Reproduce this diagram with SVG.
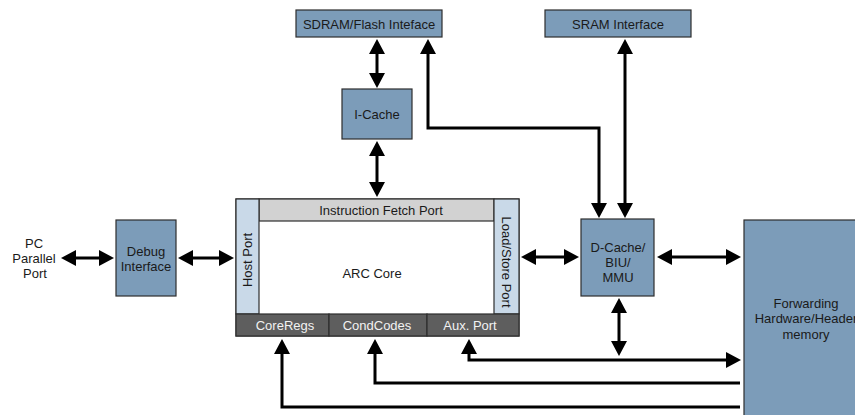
<svg xmlns="http://www.w3.org/2000/svg" width="855" height="415" viewBox="0 0 855 415">
<defs>
<marker id="ah" markerUnits="userSpaceOnUse" markerWidth="16" markerHeight="16" refX="11" refY="8" orient="auto-start-reverse">
<path d="M0,0 L15,8 L0,16 z" fill="#000"/>
</marker>
<style>
.blk{fill:#7c9cb9;stroke:#2e2e2e;stroke-width:1.2}
.lt{fill:#c9d9e8;stroke:#2e2e2e;stroke-width:1.2}
.gr{fill:#d2d2d2;stroke:#2e2e2e;stroke-width:1.2}
.dk{fill:#5e5e5e;stroke:#2e2e2e;stroke-width:1.2}
.wh{fill:#fff;stroke:#2e2e2e;stroke-width:1.2}
text{font-family:"Liberation Sans",Arial,sans-serif;font-size:13px;fill:#1a1a1a;text-anchor:middle}
.wt{fill:#f2f2f2}
.c{fill:none;stroke:#000;stroke-width:3}
.a2{marker-start:url(#ah);marker-end:url(#ah)}
.a1{marker-end:url(#ah)}
</style>
</defs>
<g id="sdram"><rect class="blk" x="296" y="10" width="146" height="27"/><text x="369" y="28.5">SDRAM/Flash Inteface</text></g>
<g id="sram"><rect class="blk" x="545" y="10" width="146" height="27"/><text x="618" y="28.5">SRAM Interface</text></g>
<g id="icache"><rect class="blk" x="342" y="89" width="70" height="50"/><text x="377" y="118.5">I-Cache</text></g>
<g id="pc"><text x="34" y="247.5">PC</text><text x="34" y="262.5">Parallel</text><text x="35" y="277.5">Port</text></g>
<g id="debug"><rect class="blk" x="116" y="220" width="60" height="76"/><text x="146" y="256">Debug</text><text x="146" y="271">Interface</text></g>
<g id="arccore">
<rect class="wh" x="236" y="199" width="283" height="137"/>
<rect class="gr" x="259" y="199" width="235" height="22"/>
<text x="381" y="215">Instruction Fetch Port</text>
<rect class="lt" x="236" y="199" width="23" height="115"/>
<text transform="translate(252,260) rotate(-90)">Host Port</text>
<rect class="lt" x="494" y="199" width="25" height="115"/>
<text transform="translate(502,262) rotate(90)">Load/Store Port</text>
<text x="372" y="277.5">ARC Core</text>
<rect class="dk" x="236" y="314" width="93" height="22"/>
<rect class="dk" x="329" y="314" width="98" height="22"/>
<rect class="dk" x="427" y="314" width="92" height="22"/>
<text class="wt" x="285" y="330">CoreRegs</text>
<text class="wt" x="377" y="330">CondCodes</text>
<text class="wt" x="470" y="330">Aux. Port</text>
</g>
<g id="dcache"><rect class="blk" x="581" y="219" width="73" height="77"/><text x="618" y="251.5">D-Cache/</text><text x="618" y="266.5">BIU/</text><text x="618" y="282">MMU</text></g>
<g id="fwd"><rect class="blk" x="744" y="220" width="120" height="200"/><text x="806" y="307.5">Forwarding</text><text x="806" y="323">Hardware/Header</text><text x="806" y="338.5">memory</text></g>
<g id="connectors">
<line class="c a2" x1="377" y1="43" x2="377" y2="84"/>
<line class="c a2" x1="377" y1="145" x2="377" y2="193"/>
<line class="c a2" x1="65" y1="258" x2="110" y2="258"/>
<line class="c a2" x1="182" y1="258" x2="230" y2="258"/>
<line class="c a2" x1="525" y1="257" x2="575" y2="257"/>
<line class="c a2" x1="661" y1="257" x2="737" y2="257"/>
<polyline class="c a2" points="428,43 428,128 599,128 599,214"/>
<line class="c a2" x1="625" y1="43" x2="625" y2="214"/>
<line class="c a2" x1="619" y1="302" x2="619" y2="352"/>
<polyline class="c a2" points="469,343 469,360 737,360"/>
<polyline class="c a1" points="740,383 375,383 375,343"/>
<polyline class="c a1" points="740,407 282,407 282,343"/>
</g>
</svg>
